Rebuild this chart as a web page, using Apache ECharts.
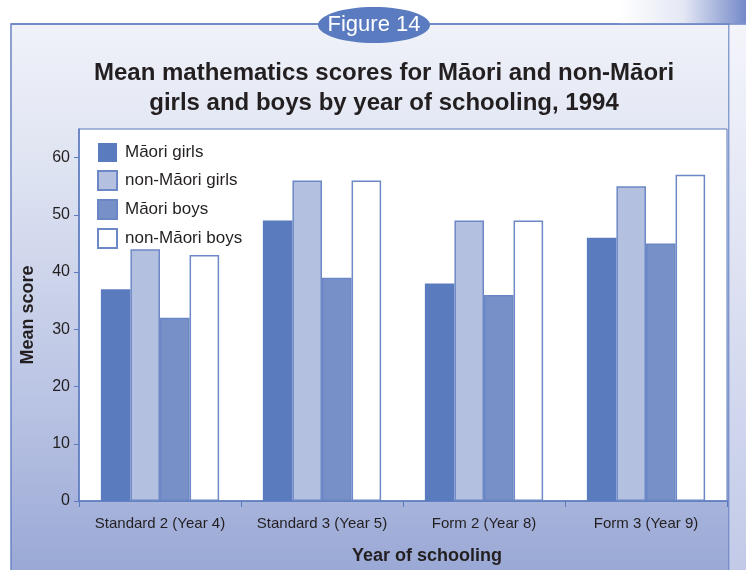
<!DOCTYPE html>
<html>
<head>
<meta charset="utf-8">
<script src="https://cdn.jsdelivr.net/npm/echarts@6/dist/echarts.min.js"></script>
<style>
html,body{margin:0;padding:0;background:#fff;}
#chart{width:746px;height:570px;}
</style>
</head>
<body>
<div id="chart"></div>
<script>
var categories = ['Standard 2 (Year 4)', 'Standard 3 (Year 5)', 'Form 2 (Year 8)', 'Form 3 (Year 9)'];
var maoriGirls = [37, 49, 38, 46];
var nonMaoriGirls = [44, 56, 49, 55];
var maoriBoys = [32, 39, 36, 45];
var nonMaoriBoys = [43, 56, 49, 57];
var yTicks = [0, 10, 20, 30, 40, 50, 60];

var FONT = '"Liberation Sans", Arial, sans-serif';
var TXT = '#231f20';
var EDGE = '#5b7bbf';

var chart = echarts.init(document.getElementById('chart'), null, {renderer: 'canvas'});

function bar(name, data, fill, border) {
  return {
    name: name, type: 'bar', data: data,
    barGap: '0%', barCategoryGap: '27%',
    itemStyle: {color: fill, borderColor: border, borderWidth: border ? 1.5 : 0},
    emphasis: {disabled: true}
  };
}

chart.setOption({
  animation: false,
  textStyle: {fontFamily: FONT},
  graphic: [
    {type: 'rect', z: -10, shape: {x: 11, y: 24, width: 718, height: 560},
     style: {fill: new echarts.graphic.LinearGradient(0, 0, 0, 1, [
       {offset: 0, color: '#f0f2f9'}, {offset: 0.25, color: '#dfe4f2'},
       {offset: 0.7, color: '#b7c1e2'}, {offset: 1, color: '#97a6d4'}]),
       stroke: '#6a84c4', lineWidth: 1.5}},
    {type: 'rect', z: -10, shape: {x: 729.5, y: 24, width: 17, height: 546},
     style: {fill: new echarts.graphic.LinearGradient(0, 0, 0, 1, [
       {offset: 0, color: '#f4f5fb'}, {offset: 1, color: '#c2cae8'}])}},
    {type: 'rect', z: -10, shape: {x: 620, y: 0, width: 126, height: 23.5},
     style: {fill: new echarts.graphic.LinearGradient(0, 0, 1, 0, [
       {offset: 0, color: '#ffffff'}, {offset: 0.5, color: '#e4e8f4'}, {offset: 1, color: '#7489c8'}])}},
    {type: 'line', z: -9, shape: {x1: 11, y1: 24, x2: 746, y2: 24}, style: {stroke: '#6a84c4', lineWidth: 1.5}},
    {type: 'ellipse', z: 5, shape: {cx: 374, cy: 25, rx: 56, ry: 18}, style: {fill: '#5b7bc0'}},
    {type: 'text', z: 6, x: 374, y: 25, style: {text: 'Figure 14', fill: '#ffffff', font: '22px ' + FONT, align: 'center', verticalAlign: 'middle'}},
    {type: 'text', z: 6, x: 384, y: 73, style: {text: 'Mean mathematics scores for Māori and non-Māori', fill: TXT, font: 'bold 24px ' + FONT, align: 'center', verticalAlign: 'middle'}},
    {type: 'text', z: 6, x: 384, y: 103, style: {text: 'girls and boys by year of schooling, 1994', fill: TXT, font: 'bold 24px ' + FONT, align: 'center', verticalAlign: 'middle'}}
  ],
  grid: {left: 79, right: 19, top: 129, bottom: 68, show: true, backgroundColor: '#ffffff', borderColor: EDGE, borderWidth: 1},
  legend: {
    orient: 'vertical', left: 92, top: 138, icon: 'rect',
    itemWidth: 19, itemHeight: 19, itemGap: 8,
    textStyle: {fontSize: 17, color: TXT, fontFamily: FONT, padding: [0, 0, 0, 3]},
    data: ['Māori girls', 'non-Māori girls', 'Māori boys', 'non-Māori boys'],
    selectedMode: false
  },
  xAxis: {
    type: 'category', data: categories,
    axisLine: {lineStyle: {color: EDGE, width: 1.5}},
    axisTick: {show: true, length: 6, lineStyle: {color: EDGE}},
    axisLabel: {color: TXT, fontSize: 15, margin: 15, interval: 0},
    name: 'Year of schooling', nameLocation: 'middle', nameGap: 46,
    nameTextStyle: {fontSize: 18, fontWeight: 'bold', color: TXT, padding: [0, 0, 0, 48]}
  },
  yAxis: {
    type: 'value', min: 0, max: 65, interval: 5,
    axisLine: {show: true, lineStyle: {color: EDGE, width: 1.5}},
    axisTick: {show: true, length: 5, lineStyle: {color: EDGE}, customValues: yTicks},
    axisLabel: {color: TXT, fontSize: 16, margin: 9, customValues: yTicks},
    splitLine: {show: false},
    name: 'Mean score', nameLocation: 'middle', nameGap: 42, nameRotate: 90,
    nameTextStyle: {fontSize: 18, fontWeight: 'bold', color: TXT}
  },
  series: [
    bar('Māori girls', maoriGirls, '#5b7bbf', null),
    bar('non-Māori girls', nonMaoriGirls, '#b4c0e0', '#6d88c6'),
    bar('Māori boys', maoriBoys, '#7890c8', '#6a86c4'),
    bar('non-Māori boys', nonMaoriBoys, '#ffffff', '#6d88c6')
  ]
});
</script>
</body>
</html>
